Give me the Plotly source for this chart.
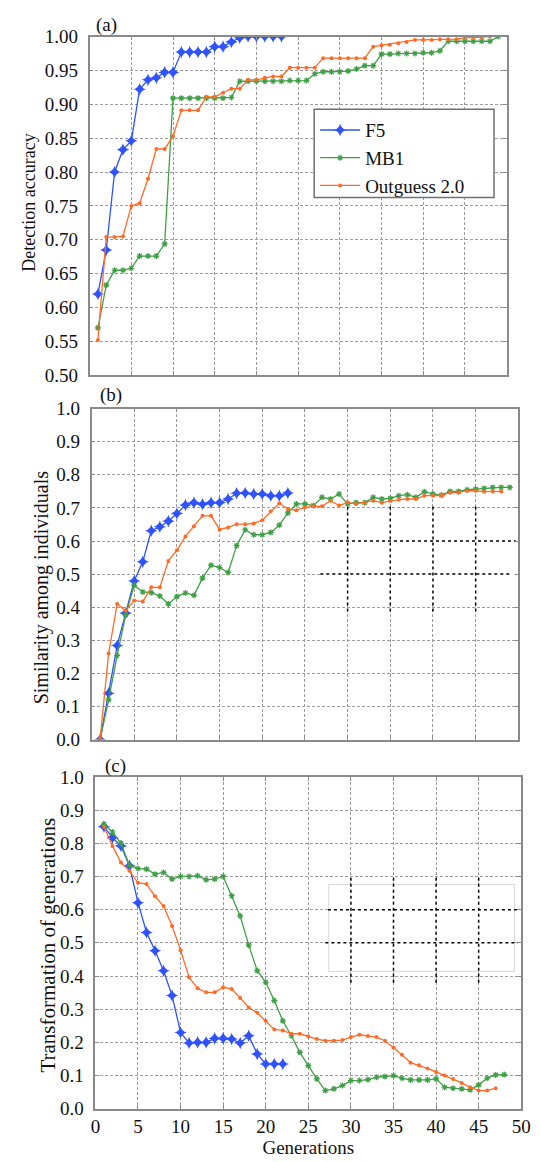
import plotly.graph_objects as go

# ---------------- data ----------------
gens_f5_a = list(range(1, 24))
f5_a = [0.62, 0.685, 0.80, 0.833, 0.846, 0.922, 0.936, 0.939, 0.947, 0.947, 0.977, 0.977,
        0.977, 0.977, 0.985, 0.985, 0.992, 0.998, 1.0, 1.0, 1.0, 1.0, 1.0]
gens_mb1_a = list(range(1, 50))
mb1_a = [0.57, 0.633, 0.655, 0.655, 0.658, 0.676, 0.676, 0.676, 0.694, 0.909,
         0.909, 0.909, 0.909, 0.909, 0.909, 0.909, 0.91, 0.934, 0.934, 0.934,
         0.934, 0.934, 0.934, 0.935, 0.935, 0.935, 0.945, 0.948, 0.948, 0.948,
         0.949, 0.952, 0.957, 0.957, 0.974, 0.974, 0.975, 0.975, 0.975, 0.976,
         0.976, 0.979, 0.993, 0.993, 0.993, 0.993, 0.993, 0.993, 1.0]
gens_og_a = list(range(1, 49))
og_a = [0.552, 0.704, 0.704, 0.705, 0.75, 0.754, 0.79, 0.834, 0.834, 0.853,
        0.891, 0.891, 0.891, 0.911, 0.911, 0.917, 0.923, 0.923, 0.936, 0.936,
        0.939, 0.941, 0.941, 0.954, 0.954, 0.954, 0.954, 0.968, 0.968, 0.968,
        0.968, 0.968, 0.968, 0.985, 0.987, 0.988, 0.99, 0.992, 0.995, 0.995,
        0.995, 0.996, 0.996, 0.996, 0.998, 0.999, 0.999, 1.0]

gens_f5_b = list(range(1, 24))
f5_b = [0.0, 0.14, 0.284, 0.382, 0.479, 0.537, 0.631, 0.643, 0.66, 0.683, 0.709, 0.716,
        0.711, 0.716, 0.716, 0.727, 0.744, 0.745, 0.742, 0.742, 0.737, 0.737, 0.745]
gens_mb1_b = list(range(1, 50))
mb1_b = [0.0, 0.12, 0.254, 0.377, 0.466, 0.446, 0.444, 0.434, 0.41, 0.432,
         0.443, 0.436, 0.488, 0.527, 0.52, 0.505, 0.586, 0.634, 0.619, 0.619,
         0.626, 0.648, 0.685, 0.712, 0.712, 0.707, 0.732, 0.727, 0.742, 0.712,
         0.716, 0.716, 0.732, 0.727, 0.729, 0.737, 0.74, 0.732, 0.749, 0.742,
         0.739, 0.75, 0.75, 0.755, 0.757, 0.759, 0.762, 0.762, 0.762]
gens_og_b = list(range(1, 49))
og_b = [0.0, 0.26, 0.41, 0.39, 0.42, 0.417, 0.46, 0.46, 0.54, 0.572,
        0.614, 0.645, 0.676, 0.676, 0.635, 0.641, 0.651, 0.651, 0.653, 0.663,
        0.69, 0.714, 0.697, 0.693, 0.702, 0.705, 0.705, 0.722, 0.707, 0.717,
        0.712, 0.716, 0.722, 0.716, 0.721, 0.725, 0.727, 0.727, 0.737, 0.737,
        0.737, 0.747, 0.747, 0.752, 0.752, 0.749, 0.75, 0.75]

gens_f5_c = list(range(1, 23))
f5_c = [0.85, 0.817, 0.792, 0.732, 0.621, 0.531, 0.476, 0.416, 0.341, 0.23, 0.198,
        0.2, 0.2, 0.212, 0.212, 0.21, 0.198, 0.22, 0.165, 0.135, 0.135, 0.135]
gens_mb1_c = list(range(1, 49))
mb1_c = [0.857, 0.834, 0.80, 0.733, 0.724, 0.722, 0.707, 0.712, 0.692, 0.70,
         0.70, 0.702, 0.69, 0.692, 0.70, 0.642, 0.581, 0.493, 0.416, 0.381,
         0.326, 0.265, 0.22, 0.17, 0.13, 0.09, 0.055, 0.06, 0.07, 0.085,
         0.085, 0.088, 0.095, 0.097, 0.10, 0.092, 0.087, 0.087, 0.087, 0.09,
         0.065, 0.062, 0.06, 0.057, 0.072, 0.092, 0.102, 0.103]
gens_og_c = list(range(1, 48))
og_c = [0.85, 0.792, 0.742, 0.717, 0.681, 0.677, 0.64, 0.611, 0.551, 0.478,
        0.396, 0.363, 0.351, 0.351, 0.366, 0.361, 0.334, 0.305, 0.289, 0.265,
        0.239, 0.236, 0.226, 0.226, 0.218, 0.21, 0.205, 0.205, 0.207, 0.216,
        0.223, 0.219, 0.216, 0.205, 0.185, 0.163, 0.139, 0.131, 0.121, 0.111,
        0.1, 0.09, 0.078, 0.065, 0.055, 0.055, 0.062]

series_names = ["F5", "MB1", "Outguess 2.0"]
panel_labels = ["(a)", "(b)", "(c)"]
y_titles = ["Detection accuracy", "Similarity among individuals", "Transformation of generations"]
x_title = "Generations"
overlay_grid_x = [30, 35, 40, 45]
overlay_grid_y = [0.5, 0.6]

# ---------------- style ----------------
W, H = 540, 1162
FONT = "Liberation Serif"
BLUE, GREEN, ORANGE = "#2f52ff", "#3f9f45", "#ff6a26"
FRAME = "#8a8a8a"
GRID = "#9c9c9c"
TXT = "#111111"


def px_x(p):
    return p / W


def px_y(p):
    return 1 - p / H


# panel pixel boxes: (left, right, top, bottom)
boxes = [(87, 516, 27, 372), (89, 528, 406, 743), (93, 531, 781, 1119)]
legend_box = (318, 503, 101, 191)

fig = go.Figure()

data = [
    [(gens_f5_a, f5_a), (gens_mb1_a, mb1_a), (gens_og_a, og_a)],
    [(gens_f5_b, f5_b), (gens_mb1_b, mb1_b), (gens_og_b, og_b)],
    [(gens_f5_c, f5_c), (gens_mb1_c, mb1_c), (gens_og_c, og_c)],
]
colors = [BLUE, GREEN, ORANGE]
markers = [
    dict(symbol="star-diamond", size=9, color=BLUE),
    dict(symbol="asterisk", size=5, color=GREEN, line=dict(width=1.2, color=GREEN)),
    dict(symbol="circle", size=4, color=ORANGE),
]

for p in range(3):
    ax = "" if p == 0 else str(p + 1)
    for s in range(3):
        xs, ys = data[p][s]
        fig.add_trace(go.Scatter(
            x=xs, y=ys, mode="lines+markers", name=series_names[s],
            line=dict(color=colors[s], width=1.3), marker=markers[s],
            xaxis="x" + ax, yaxis="y" + ax, showlegend=(p == 0),
            legendgroup=series_names[s],
        ))

common_axis = dict(
    showline=True, mirror="ticks", linecolor=FRAME, linewidth=1.6,
    ticks="inside", ticklen=4, tickcolor=FRAME, tickwidth=1,
    showgrid=True, gridcolor=GRID, gridwidth=1, griddash="3px,2px",
    zeroline=False, tickfont=dict(family=FONT, size=19, color=TXT),
)

layout = dict(
    width=W, height=H, margin=dict(l=0, r=0, t=0, b=0),
    paper_bgcolor="white", plot_bgcolor="white",
    font=dict(family=FONT, size=19, color=TXT),
    showlegend=True,
    legend=dict(x=px_x(legend_box[0] + 1), y=px_y(legend_box[2] + 2), xanchor="left", yanchor="top",
                bgcolor="rgba(0,0,0,0)", borderwidth=0,
                font=dict(family=FONT, size=19, color=TXT), tracegroupgap=0,
                itemwidth=40),
)

for p in range(3):
    l, r, t, b = boxes[p]
    ax = "" if p == 0 else str(p + 1)
    xa = dict(common_axis, domain=[px_x(l), px_x(r)], range=[0, 50], dtick=5, tick0=0,
              anchor="y" + ax, showticklabels=(p == 2), ticklabeloverflow="allow")
    if p == 2:
        xa["title"] = dict(text=x_title, font=dict(family=FONT, size=19, color=TXT), standoff=4)
    if p == 0:
        ya = dict(common_axis, domain=[px_y(b), px_y(t)], range=[0.5, 1.0], dtick=0.05,
                  tick0=0.5, tickformat=".2f", anchor="x" + ax, ticklabelstandoff=6)
    else:
        ya = dict(common_axis, domain=[px_y(b), px_y(t)], range=[0, 1.0], dtick=0.1,
                  tick0=0, tickformat=".1f", anchor="x" + ax, ticklabelstandoff=6)
    layout["xaxis" + ax] = xa
    layout["yaxis" + ax] = ya

fig.update_layout(**layout)

# legend frame (wider than the auto legend, as in the original)
fig.add_shape(type="rect", xref="paper", yref="paper",
              x0=px_x(legend_box[0]), x1=px_x(legend_box[1]),
              y0=px_y(legend_box[3]), y1=px_y(legend_box[2]),
              fillcolor="white", line=dict(color="#707070", width=1.5), layer="above")

# panel labels and y titles
label_pos = [(92, 15), (96, 392), (101, 770)]
title_pos = [(25, 196), (37, 588), (44, 952)]
title_sizes = [18, 20, 21]
for p in range(3):
    fig.add_annotation(text=panel_labels[p], xref="paper", yref="paper",
                       x=px_x(label_pos[p][0]), y=px_y(label_pos[p][1]),
                       xanchor="left", yanchor="middle", showarrow=False,
                       font=dict(family=FONT, size=19, color=TXT))
    fig.add_annotation(text=y_titles[p], xref="paper", yref="paper",
                       x=px_x(title_pos[p][0]), y=px_y(title_pos[p][1]),
                       xanchor="center", yanchor="middle", textangle=-90, showarrow=False,
                       font=dict(family=FONT, size=title_sizes[p], color=TXT))

# pasted-over patches with black dotted grid (panels b and c)
patches = [
    dict(ax="2", x0=26.9, x1=49.8, y0=0.41, y1=0.69, border=None,
         h=[(27.0, 49.7), (26.8, 49.2)], v=(0.387, 0.712)),
    dict(ax="3", x0=27.4, x1=49.2, y0=0.414, y1=0.676, border="#d8d8d8",
         h=[(27.3, 49.8), (27.0, 49.6)], v=(0.38, 0.706)),
]
for pt in patches:
    xr, yr = "x" + pt["ax"], "y" + pt["ax"]
    fig.add_shape(type="rect", xref=xr, yref=yr, x0=pt["x0"], x1=pt["x1"], y0=pt["y0"], y1=pt["y1"],
                  fillcolor="white", line=dict(width=1 if pt["border"] else 0,
                                               color=pt["border"] or "white"), layer="between")
    for (gy, (hx0, hx1)) in zip(overlay_grid_y[::-1], pt["h"]):
        fig.add_shape(type="line", xref=xr, yref=yr, x0=hx0, x1=hx1, y0=gy, y1=gy,
                      line=dict(color="black", width=1.5, dash="dot"), layer="between")
    for gx in overlay_grid_x:
        fig.add_shape(type="line", xref=xr, yref=yr, x0=gx, x1=gx, y0=pt["v"][0], y1=pt["v"][1],
                      line=dict(color="black", width=1.5, dash="dot"), layer="between")

fig.write_html("out.html", config={"displayModeBar": False},
               post_script="document.body.style.margin='0';")
